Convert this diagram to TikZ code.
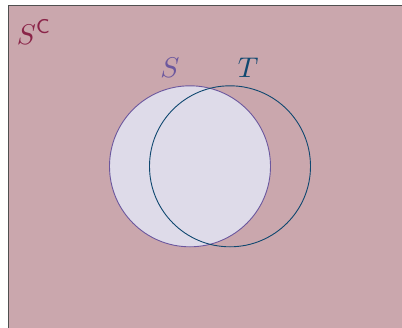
\documentclass[tikz,border=0pt]{standalone}
\usepackage{amsmath}
\definecolor{bgpink}{RGB}{202,167,173}
\definecolor{slav}{RGB}{222,219,233}
\definecolor{spurple}{RGB}{108,88,158}
\definecolor{tblue}{RGB}{16,72,112}
\definecolor{maroon}{RGB}{138,36,72}
\definecolor{edgegray}{RGB}{80,80,80}
\begin{document}
\begin{tikzpicture}[x=1pt,y=-1pt,
  setcircle/.style={circle, minimum size=161pt, inner sep=0pt, line width=0.9pt},
  biglabel/.style={font=\fontsize{10}{12}\selectfont, inner sep=0pt, scale=2.85, transform shape}]
\useasboundingbox (0,0) rectangle (402,327);
\begin{scope}
\clip (0,0) rectangle (402,327);
\draw[edgegray, line width=1.3pt, fill=bgpink] (8.7,5.5) rectangle (420,345);
\end{scope}
\node[setcircle, draw=spurple, fill=slav] (S) at (190,166.3) {};
\node[setcircle, draw=tblue] (T) at (230,166.3) {};
\node[biglabel, text=spurple] (Slab) at (170,67.7) {$S$};
\node[biglabel, text=tblue] (Tlab) at (248.3,67.7) {$T$};
\node[biglabel, text=maroon] (Sc) at (34,32) {$S^{\mathsf{C}}$};
\end{tikzpicture}
\end{document}
